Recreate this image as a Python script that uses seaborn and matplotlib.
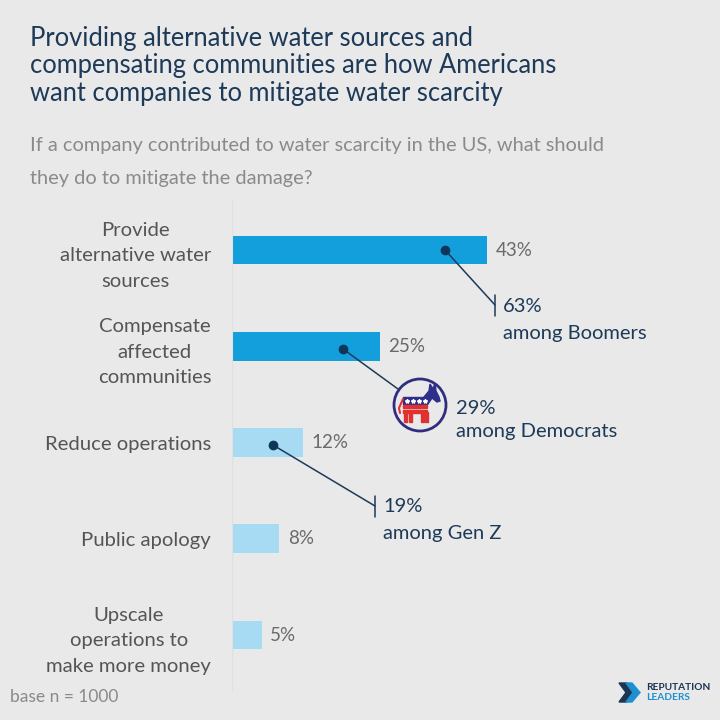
import pandas as pd
import numpy as np
import matplotlib.pyplot as plt
import seaborn as sns
from matplotlib.patches import Circle, Polygon, Rectangle

# данные с картинки
categories = ['Provide\nalternative water\nsources',
              'Compensate\naffected\ncommunities',
              'Reduce operations',
              'Public apology',
              'Upscale\noperations to\nmake more money']
values = [43, 25, 12, 8, 5]
groups = ['top', 'top', 'rest', 'rest', 'rest']

callout_values = ['63%', '29%', '19%']
callout_groups = ['among Boomers', 'among Democrats', 'among Gen Z']

title = ('Providing alternative water sources and\n'
         'compensating communities are how Americans\n'
         'want companies to mitigate water scarcity')
subtitle = ('If a company contributed to water scarcity in the US, what should\n'
            'they do to mitigate the damage?')
base_note = 'base n = 1000'

df = pd.DataFrame({'category': categories, 'value': values, 'group': groups})

BG = '#e9e9e9'
NAVY = '#1d3a58'
GREY = '#6a6a6a'

sns.set_style('white')
plt.rcParams['font.family'] = ['Lato', 'DejaVu Sans']

fig = plt.figure(figsize=(7.2, 7.2), dpi=100, facecolor=BG)

# оси графика: x=0 на 232px, 43% на 487px
W = 720
x0_px, scale = 232, (487 - 232) / 43
top_px, bot_px = 200, 690
ax = fig.add_axes([x0_px / W, 1 - bot_px / W, 1 - x0_px / W, (bot_px - top_px) / W])
ax.set_facecolor('none')

sns.barplot(data=df, y='category', x='value', hue='group',
            palette={'top': '#139fdc', 'rest': '#a6dbf3'}, saturation=1,
            dodge=False, width=0.3, legend=False, ax=ax, orient='h', linewidth=0)

ax.set_xlim(0, (W - x0_px) / scale)
row_px = 96.25
ax.set_ylim((bot_px - 250) / row_px, (top_px - 250) / row_px)
ax.set_xlabel('')
ax.set_ylabel('')
ax.set_xticks([])
sns.despine(ax=ax, left=False, bottom=True)
ax.spines['left'].set_color('#e0e0e0')
ax.spines['left'].set_linewidth(0.8)
ax.tick_params(axis='y', length=0, pad=15, labelsize=14.6, labelcolor='#555555')
for lbl in ax.get_yticklabels():
    lbl.set_multialignment('center')
    lbl.set_linespacing(1.62)

for cont in ax.containers:
    ax.bar_label(cont, fmt='%d%%', padding=6, fontsize=13.5, color=GREY)

# оверлей в пикселях для подписей и выносок
ov = fig.add_axes([0, 0, 1, 1], facecolor='none')
ov.set_xlim(0, W)
ov.set_ylim(W, 0)
ov.axis('off')

ov.text(30, 66, title, fontsize=18.4, color=NAVY, va='center', ha='left', linespacing=1.14)
ov.text(30, 162, subtitle, fontsize=14.4, color='#8a8a8a', va='center', ha='left', linespacing=2.15)
ov.text(10, 697, base_note, fontsize=12.5, color='#8a8a8a', va='center', ha='left')

# выноски
def dot(x, y):
    ov.plot([x], [y], 'o', color='#0e3658', markersize=6, zorder=5)

# Boomers
dot(445, 250)
ov.plot([445, 495], [250, 305], color=NAVY, lw=1.1)
ov.plot([495, 495], [295, 316], color=NAVY, lw=1.1)
ov.text(503, 307, callout_values[0], fontsize=14.5, color=NAVY, va='center')
ov.text(503, 333, callout_groups[0], fontsize=14.5, color=NAVY, va='center')

# Democrats
cx, cy, r = 420, 405, 26
dot(343, 349)
ov.plot([343, 398], [349, 389], color=NAVY, lw=1.1)
ov.add_patch(Circle((cx, cy), r, facecolor='none', edgecolor='#2f2e7e', lw=2, zorder=4))
# ослик
blue, red = '#2e2f8a', '#e0302f'
ov.add_patch(Rectangle((cx - 17, cy - 8), 24, 7, color=blue, zorder=4))
ov.add_patch(Polygon([(cx + 4, cy - 8), (cx + 9, cy - 14), (cx + 10, cy - 21),
                      (cx + 13, cy - 16), (cx + 15, cy - 22), (cx + 16, cy - 14),
                      (cx + 19, cy - 8), (cx + 20, cy - 4), (cx + 17, cy - 3),
                      (cx + 12, cy - 7), (cx + 8, cy - 1), (cx + 4, cy - 1)],
                     closed=True, color=blue, zorder=4))
for sx in (cx - 13, cx - 7, cx - 1, cx + 5):
    ov.plot([sx], [cy - 4.5], marker='*', color='white', markersize=3, zorder=5)
ov.add_patch(Rectangle((cx - 17, cy), 24, 3, color=red, zorder=4))
ov.add_patch(Rectangle((cx - 17, cy + 4.5), 24, 3, color=red, zorder=4))
for lx in (cx - 16, cx - 11, cx + 1, cx + 5):
    ov.add_patch(Rectangle((lx, cy + 7), 2.5, 10, color=red, zorder=4))
ov.plot([cx - 17, cx - 21, cx - 20], [cy - 6, cy + 3, cy + 8], color=red, lw=1.5, zorder=4)
ov.text(456, 408, callout_values[1], fontsize=14.5, color=NAVY, va='center')
ov.text(456, 432, callout_groups[1], fontsize=14.5, color=NAVY, va='center')

# Gen Z
dot(273, 445)
ov.plot([273, 375], [445, 506], color=NAVY, lw=1.1)
ov.plot([375, 375], [496, 517], color=NAVY, lw=1.1)
ov.text(383, 507, callout_values[2], fontsize=14.5, color=NAVY, va='center')
ov.text(383, 533, callout_groups[2], fontsize=14.5, color=NAVY, va='center')

# логотип
ov.add_patch(Polygon([(619, 683), (627, 683), (635, 692.5), (627, 702), (619, 702), (626, 692.5)],
                     closed=True, color='#1b3552', zorder=4))
ov.add_patch(Polygon([(626, 683), (632, 683), (640, 692.5), (632, 702), (626, 702), (633, 692.5)],
                     closed=True, color='#1e90d2', zorder=5))
ov.text(646, 687, 'REPUTATION', fontsize=7.3, fontweight='bold', color='#1b3552', va='center')
ov.text(646, 698, 'LEADERS', fontsize=7.3, fontweight='bold', color='#1e90d2', va='center')

fig.savefig('out.png', dpi=100, facecolor=BG)
